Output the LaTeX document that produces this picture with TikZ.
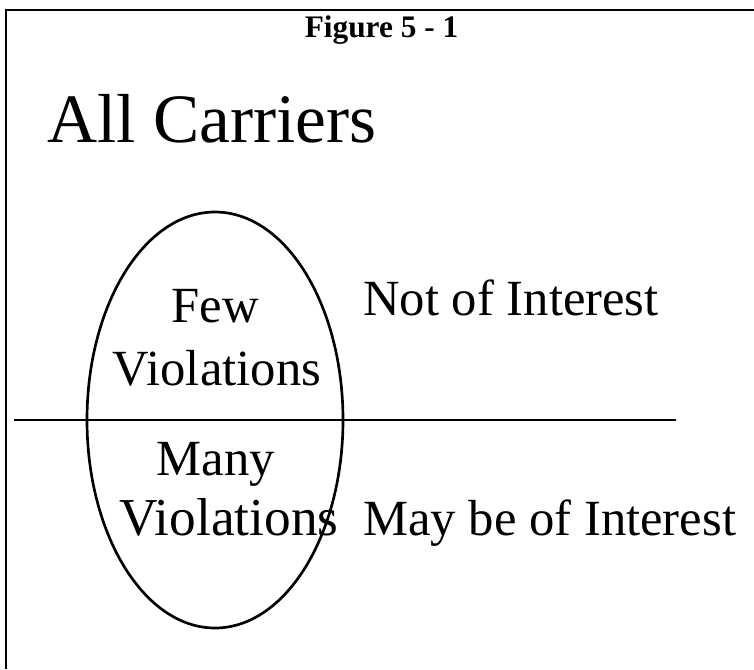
\documentclass[tikz,border=0pt]{standalone}
\usepackage{fontspec}
\setmainfont{Liberation Serif}
\usepackage{tikz}

\tikzset{
  txt/.style={inner sep=0pt, font=\fontsize{38}{40}\selectfont},
  bigtxt/.style={inner sep=0pt, font=\fontsize{52}{54}\selectfont},
  ttl/.style={inner sep=0pt, font=\fontsize{23.5}{25}\selectfont\bfseries},
}

\begin{document}
\begin{tikzpicture}[x=0.75pt,y=0.75pt,yscale=-1,xscale=1]

\useasboundingbox (0,0) rectangle (754,669);

%Frame: left and top edges
\coordinate (fbl) at (6,669);
\coordinate (ftl) at (6,10);
\coordinate (ftr) at (754,10);
\draw [line width=1.5pt] (fbl) -- (ftl) -- (ftr) ;

%Shape: Ellipse
\draw [line width=2pt] (87,420) .. controls (87,305.13) and (144.31,212) .. (215,212) .. controls (285.69,212) and (343,305.13) .. (343,420) .. controls (343,534.87) and (285.69,628) .. (215,628) .. controls (144.31,628) and (87,534.87) .. (87,420) -- cycle ;

%Straight Lines: split
\coordinate (splitl) at (14,420);
\coordinate (splitr) at (676,420);
\draw [line width=1.7pt] (splitl) -- (splitr) ;

% Text Node
\draw (381.5,37) node [anchor=base, ttl] (fig) {Figure 5 - 1};
% Text Node
\draw (47,142) node [anchor=base west, bigtxt] (allc) {All Carriers};
% Text Node
\draw (215,322) node [anchor=base, txt] (few) {Few};
% Text Node
\draw (217,385) node [anchor=base, txt] (fewv) {Violations};
% Text Node
\draw (216,475) node [anchor=base, txt] (many) {Many};
% Text Node
\draw (229,535) node [anchor=base, txt, font=\fontsize{40}{42}\selectfont] (manyv) {Violations};
% Text Node
\draw (363,315) node [anchor=base west, txt] (notint) {Not of Interest};
% Text Node
\draw (363,535) node [anchor=base west, txt] (mayint) {May be of Interest};

\end{tikzpicture}
\end{document}
